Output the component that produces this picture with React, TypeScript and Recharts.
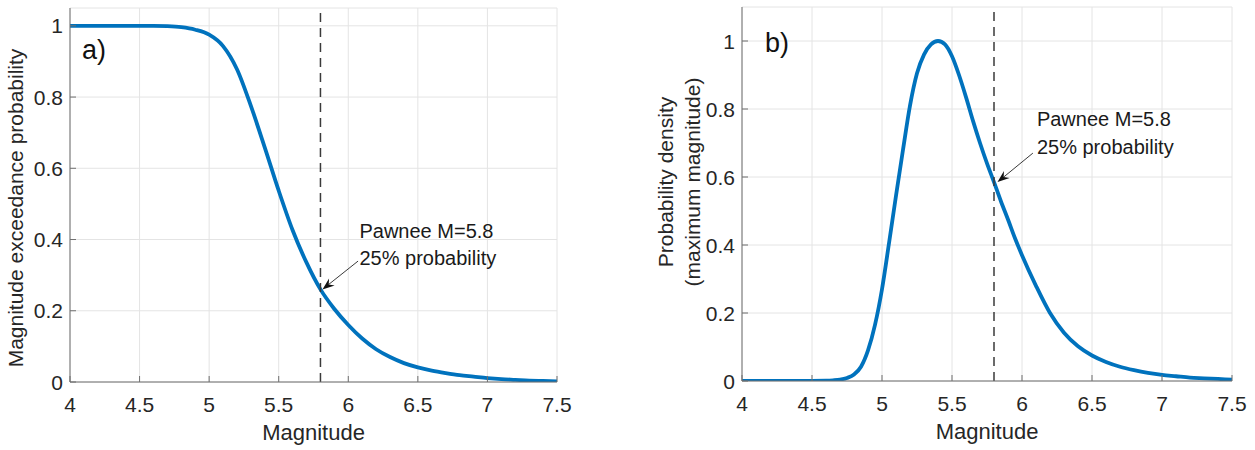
import React from "react";
import { LineChart, Line, XAxis, YAxis, CartesianGrid, ReferenceLine, ReferenceDot } from "recharts";

// Two MATLAB-style panels: a) exceedance probability, b) normalised density of max magnitude.
const FONT = "'Liberation Sans', Arial, Helvetica, sans-serif";
const AXIS = "#6f6f6f";
const GRID = "#e4e4e4";
const TXT = "#262626";
const BLUE = "#0072BD";

const magTicks = [4, 4.5, 5, 5.5, 6, 6.5, 7, 7.5];
const probTicks = [0, 0.2, 0.4, 0.6, 0.8, 1];
const pawneeMag = 5.8;

// panel a) — exceedance probability
const exceedMag = [
  4.0, 4.1, 4.2, 4.3, 4.4, 4.5, 4.6, 4.7, 4.8, 4.9, 5.0, 5.1, 5.2, 5.3, 5.4, 5.5, 5.6, 5.7,
  5.8, 5.9, 6.0, 6.1, 6.2, 6.3, 6.4, 6.5, 6.6, 6.7, 6.8, 6.9, 7.0, 7.1, 7.2, 7.3, 7.4, 7.5,
];
const exceedProb = [
  1, 1, 1, 1, 1, 1, 1, 0.999, 0.996, 0.989, 0.975, 0.943, 0.878, 0.775, 0.658, 0.537, 0.426, 0.335,
  0.26, 0.205, 0.16, 0.122, 0.092, 0.07, 0.053, 0.041, 0.032, 0.025, 0.019, 0.015, 0.011, 0.008, 0.006, 0.004, 0.003, 0.002,
];

// panel b) — density, normalised to a peak of 1
const densityMag = [
  4.0, 4.2, 4.4, 4.6, 4.65, 4.7, 4.75, 4.8, 4.85, 4.9, 4.95, 5.0, 5.05, 5.1, 5.15, 5.2, 5.25, 5.3,
  5.35, 5.4, 5.45, 5.5, 5.55, 5.6, 5.65, 5.7, 5.75, 5.8, 5.85, 5.9, 5.95, 6.0, 6.1, 6.2, 6.3, 6.4,
  6.5, 6.6, 6.7, 6.8, 6.9, 7.0, 7.1, 7.2, 7.3, 7.4, 7.5,
];
const densityVal = [
  0, 0, 0, 0.001, 0.002, 0.004, 0.009, 0.019, 0.042, 0.09, 0.165, 0.27, 0.405, 0.545, 0.68, 0.81, 0.905, 0.96,
  0.99, 1.0, 0.99, 0.955, 0.9, 0.835, 0.765, 0.7, 0.64, 0.585, 0.528, 0.475, 0.42, 0.37, 0.28, 0.2, 0.142, 0.102,
  0.075, 0.056, 0.042, 0.032, 0.024, 0.018, 0.014, 0.01, 0.008, 0.006, 0.004,
];

const exceedData = exceedMag.map((m, i) => ({ m, v: exceedProb[i] }));
const densityData = densityMag.map((m, i) => ({ m, v: densityVal[i] }));

const txt = { fontFamily: FONT, fill: TXT };

function BottomTick({ x, y, payload }: any) {
  return (
    <g>
      <line x1={x} x2={x} y1={y} y2={y - 6} stroke={AXIS} />
      <text x={x} y={y + 30} textAnchor="middle" fontSize={21} {...txt}>{payload.value}</text>
    </g>
  );
}
function TopTick({ x, y }: any) {
  return <line x1={x} x2={x} y1={y} y2={y + 6} stroke={AXIS} />;
}
function LeftTick({ x, y, payload }: any) {
  return (
    <g>
      <line x1={x} x2={x + 6} y1={y} y2={y} stroke={AXIS} />
      <text x={x - 7} y={y} dy="0.36em" textAnchor="end" fontSize={21} {...txt}>{payload.value}</text>
    </g>
  );
}
function RightTick({ x, y }: any) {
  return <line x1={x} x2={x - 6} y1={y} y2={y} stroke={AXIS} />;
}

type Note = { tipDx: number; tailDx: number; tailDy: number; textDx: number; line1: number; line2: number };

function Annotation({ cx, cy, note }: { cx: number; cy: number; note: Note }) {
  const tx = cx + note.tipDx;
  const ty = cy;
  const sx = tx + note.tailDx;
  const sy = ty + note.tailDy;
  const len = Math.hypot(sx - tx, sy - ty);
  const ux = (sx - tx) / len;
  const uy = (sy - ty) / len;
  const hl = 12, hw = 4.5, notch = 8;
  const bx = tx + ux * hl, by = ty + uy * hl;
  const nx = tx + ux * notch, ny = ty + uy * notch;
  const head = `${tx},${ty} ${bx - uy * hw},${by + ux * hw} ${nx},${ny} ${bx + uy * hw},${by - ux * hw}`;
  return (
    <g>
      <line x1={sx} y1={sy} x2={nx} y2={ny} stroke="#222" strokeWidth={0.9} />
      <polygon points={head} fill="#111" />
      <text x={tx + note.textDx} y={ty + note.line1} fontSize={20} fontFamily={FONT} fill="#1a1a1a">Pawnee M=5.8</text>
      <text x={tx + note.textDx} y={ty + note.line2} fontSize={20} fontFamily={FONT} fill="#1a1a1a">25% probability</text>
    </g>
  );
}

function Panel({
  data, yMax, width, margin, tag, tagX, tagY, yLines, yLabelX, yLabelY, noteAt, note,
}: {
  data: { m: number; v: number }[];
  yMax: number;
  width: number;
  margin: { top: number; right: number; bottom: number; left: number };
  tag: string;
  tagX: number;
  tagY: number;
  yLines: string[];
  yLabelX: number[];
  yLabelY: number;
  noteAt: number;
  note: Note;
}) {
  return (
    <LineChart width={width} height={450} data={data} margin={margin}>
      <CartesianGrid stroke={GRID} />
      <XAxis
        dataKey="m" type="number" domain={[4, 7.5]} ticks={magTicks} interval={0} allowDataOverflow
        height={40} tickSize={0} tickMargin={0} tickLine={false} tick={BottomTick}
        axisLine={{ stroke: AXIS }}
        label={{
          content: ({ viewBox }: any) => (
            <text x={viewBox.x + viewBox.width / 2} y={viewBox.y + 58} textAnchor="middle" fontSize={22} {...txt}>Magnitude</text>
          ),
        }}
      />
      <XAxis
        xAxisId="top" orientation="top" type="number" domain={[4, 7.5]} ticks={magTicks} interval={0}
        allowDataOverflow height={0} tickSize={0} tickMargin={0} tickLine={false} tick={TopTick}
        axisLine={{ stroke: AXIS }}
      />
      <YAxis
        domain={[0, yMax]} ticks={probTicks} interval={0} allowDataOverflow width={60}
        tickSize={0} tickMargin={0} tickLine={false} tick={LeftTick} axisLine={{ stroke: AXIS }}
        label={{
          content: () => (
            <g>
              {yLines.map((s, i) => (
                <text key={s} x={yLabelX[i]} y={yLabelY} transform={`rotate(-90 ${yLabelX[i]} ${yLabelY})`}
                  textAnchor="middle" fontSize={21} {...txt}>{s}</text>
              ))}
              <text x={tagX} y={tagY} fontSize={27} fontFamily={FONT} fill="#111">{tag}</text>
            </g>
          ),
        }}
      />
      <YAxis
        yAxisId="right" orientation="right" domain={[0, yMax]} ticks={probTicks} interval={0} allowDataOverflow
        width={0} tickSize={0} tickMargin={0} tickLine={false} tick={RightTick} axisLine={{ stroke: AXIS }}
      />
      <Line type="monotone" dataKey="v" stroke={BLUE} strokeWidth={3.8} dot={false} isAnimationActive={false} />
      <ReferenceLine x={pawneeMag} stroke="#3a3a3a" strokeWidth={1.5} strokeDasharray="9 6" />
      <ReferenceDot
        x={pawneeMag} y={noteAt} r={0}
        shape={(p: any) => <Annotation cx={p.cx} cy={p.cy} note={note} />}
      />
    </LineChart>
  );
}

export default function App() {
  return (
    <div style={{ position: "absolute", left: 0, top: 0, width: 1255, height: 450, background: "#fff" }}>
      <div style={{ position: "absolute", left: 0, top: 0 }}>
        <Panel
          data={exceedData} yMax={1.05} width={600}
          margin={{ top: 8, right: 43, bottom: 28, left: 10 }}
          tag="a)" tagX={82} tagY={59}
          yLines={["Magnitude  exceedance probability"]} yLabelX={[23]} yLabelY={208}
          noteAt={0.26}
          note={{ tipDx: 2, tailDx: 35.6, tailDy: -28.3, textDx: 37, line1: -51, line2: -24 }}
        />
      </div>
      <div style={{ position: "absolute", left: 620, top: 0 }}>
        <Panel
          data={densityData} yMax={1.1} width={635}
          margin={{ top: 7, right: 23, bottom: 29, left: 62 }}
          tag="b)" tagX={145} tagY={52}
          yLines={["Probability density", "(maximum magnitude)"]} yLabelX={[53, 80]} yLabelY={182}
          noteAt={0.585}
          note={{ tipDx: 3.5, tailDx: 35.4, tailDy: -29, textDx: 39.4, line1: -55.7, line2: -28.4 }}
        />
      </div>
    </div>
  );
}
